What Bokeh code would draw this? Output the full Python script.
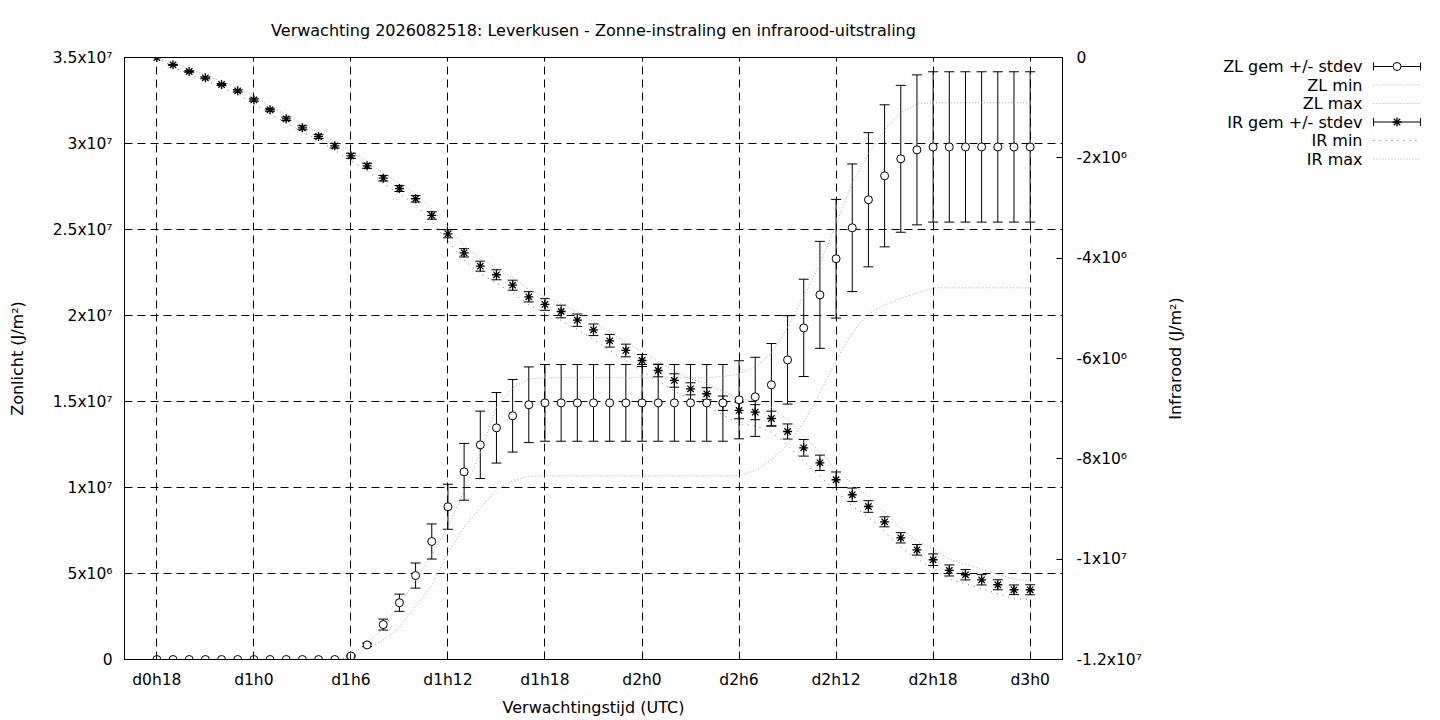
import math
from bokeh.plotting import figure
from bokeh.models import Range1d, LinearAxis, FixedTicker, Whisker, TeeHead, ColumnDataSource
from bokeh.layouts import row
from bokeh.embed import file_html
from bokeh.resources import INLINE
from bokeh.core.properties import value

FONT = "DejaVu Sans"
FS = "16px"
FS_TICK = "15.5px"

TITLE = "Verwachting 2026082518: Leverkusen - Zonne-instraling en infrarood-uitstraling"
X_LABEL = "Verwachtingstijd (UTC)"
Y_LABEL = "Zonlicht (J/m²)"
Y2_LABEL = "Infrarood (J/m²)"

# forecast hour (hours since d0h0), one point per hour from d0h18 to d3h0
HOURS = list(range(18, 73))

X_TICKS = [18, 24, 30, 36, 42, 48, 54, 60, 66, 72]
X_TICK_LABELS = ["d0h18", "d1h0", "d1h6", "d1h12", "d1h18", "d2h0", "d2h6", "d2h12", "d2h18", "d3h0"]
Y_TICKS = [0, 5000000, 10000000, 15000000, 20000000, 25000000, 30000000, 35000000]
Y_TICK_LABELS = ["0", "5x10⁶", "1x10⁷", "1.5x10⁷", "2x10⁷", "2.5x10⁷", "3x10⁷", "3.5x10⁷"]
Y2_TICKS = [-12000000, -10000000, -8000000, -6000000, -4000000, -2000000, 0]
Y2_TICK_LABELS = ["-1.2x10⁷", "-1x10⁷", "-8x10⁶", "-6x10⁶", "-4x10⁶", "-2x10⁶", "0"]

LEGEND_LABELS = ["ZL gem +/- stdev", "ZL min", "ZL max", "IR gem +/- stdev", "IR min", "IR max"]

# Zonlicht (sunlight), units of 1e7 J/m2
ZL_MEAN_E7 = [0, 0, 0, 0, 0, 0, 0, 0, 0, 0, 0, 0,
              0.02, 0.085, 0.203, 0.33, 0.488, 0.686, 0.888, 1.091, 1.248, 1.347, 1.417, 1.481,
              1.492, 1.492, 1.492, 1.492, 1.492, 1.492, 1.492, 1.492, 1.492, 1.492, 1.492, 1.492,
              1.51, 1.527, 1.597, 1.742, 1.928, 2.12, 2.33, 2.51, 2.673, 2.812, 2.911, 2.963,
              2.98, 2.98, 2.98, 2.98, 2.98, 2.98, 2.98]
ZL_STD_E7 = [0, 0, 0, 0, 0, 0, 0, 0, 0, 0, 0, 0,
             0.005, 0.01, 0.032, 0.05, 0.073, 0.102, 0.131, 0.165, 0.196, 0.205, 0.211, 0.22,
             0.223, 0.223, 0.223, 0.223, 0.223, 0.223, 0.223, 0.223, 0.223, 0.223, 0.223, 0.223,
             0.227, 0.23, 0.24, 0.257, 0.283, 0.311, 0.345, 0.371, 0.39, 0.413, 0.427, 0.436,
             0.437, 0.437, 0.437, 0.437, 0.437, 0.437, 0.437]
ZL_MIN_E7 = [0, 0, 0, 0, 0, 0, 0, 0, 0, 0, 0, 0,
             0.01, 0.064, 0.113, 0.186, 0.31, 0.43, 0.62, 0.77, 0.88, 0.99, 1.04, 1.065,
             1.068, 1.068, 1.068, 1.068, 1.068, 1.068, 1.068, 1.068, 1.068, 1.068, 1.068, 1.068,
             1.068, 1.10, 1.16, 1.25, 1.38, 1.55, 1.74, 1.90, 2.01, 2.06, 2.10, 2.13,
             2.161, 2.161, 2.161, 2.161, 2.161, 2.161, 2.161]
ZL_MAX_E7 = [0, 0, 0, 0, 0, 0, 0, 0, 0, 0, 0, 0,
             0.023, 0.10, 0.18, 0.32, 0.46, 0.61, 0.77, 0.98, 1.20, 1.47, 1.58, 1.63,
             1.638, 1.638, 1.638, 1.638, 1.638, 1.638, 1.638, 1.638, 1.638, 1.638, 1.638, 1.645,
             1.66, 1.70, 1.78, 1.93, 2.11, 2.30, 2.53, 2.77, 2.94, 3.08, 3.18, 3.23,
             3.237, 3.237, 3.237, 3.237, 3.237, 3.237, 3.237]

# Infrarood (infrared), units of 1e6 J/m2
IR_MEAN_E6 = [0, -0.146, -0.279, -0.405, -0.538, -0.664, -0.843, -1.042, -1.222, -1.401, -1.575, -1.760,
              -1.959, -2.159, -2.406, -2.611, -2.816, -3.149, -3.514, -3.893, -4.160, -4.331, -4.539, -4.770,
              -4.923, -5.063, -5.236, -5.428, -5.647, -5.840, -6.040, -6.239, -6.438, -6.604, -6.703, -6.891,
              -7.036, -7.070, -7.196, -7.455, -7.780, -8.079, -8.417, -8.716, -8.950, -9.255, -9.574, -9.813,
              -10.012, -10.225, -10.311, -10.411, -10.510, -10.610, -10.610]
IR_STD_E6 = [0, 0.01, 0.015, 0.02, 0.02, 0.025, 0.03, 0.03, 0.035, 0.04, 0.04, 0.045,
             0.05, 0.05, 0.055, 0.06, 0.066, 0.075, 0.08, 0.083, 0.1, 0.1, 0.1, 0.103,
             0.116, 0.126, 0.123, 0.116, 0.126, 0.126, 0.12, 0.126, 0.133, 0.12, 0.12, 0.143,
             0.166, 0.15, 0.146, 0.15, 0.166, 0.153, 0.155, 0.133, 0.116, 0.1, 0.103, 0.106,
             0.116, 0.11, 0.103, 0.103, 0.1, 0.096, 0.1]
IR_MIN_E6 = [0, -0.19, -0.33, -0.46, -0.60, -0.73, -0.92, -1.12, -1.30, -1.48, -1.66, -1.85,
             -2.05, -2.26, -2.51, -2.72, -2.93, -3.28, -3.66, -4.04, -4.31, -4.49, -4.70, -4.93,
             -5.09, -5.24, -5.42, -5.62, -5.84, -6.04, -6.25, -6.45, -6.65, -6.82, -6.93, -7.13,
             -7.30, -7.34, -7.47, -7.73, -8.05, -8.34, -8.66, -8.94, -9.16, -9.45, -9.76, -9.99,
             -10.19, -10.40, -10.49, -10.59, -10.69, -10.79, -10.80]
IR_MAX_E6 = [0, -0.10, -0.22, -0.35, -0.48, -0.60, -0.77, -0.97, -1.15, -1.33, -1.50, -1.68,
             -1.88, -2.07, -2.31, -2.51, -2.71, -3.02, -3.38, -3.75, -4.02, -4.19, -4.39, -4.62,
             -4.77, -4.91, -5.08, -5.27, -5.48, -5.67, -5.87, -6.06, -6.25, -6.41, -6.50, -6.66,
             -6.80, -6.85, -6.97, -7.22, -7.55, -7.86, -8.20, -8.50, -8.76, -9.07, -9.39, -9.64,
             -9.80, -10.00, -10.10, -10.20, -10.30, -10.40, -10.43]

zl_mean = [v * 1e7 for v in ZL_MEAN_E7]
zl_std = [v * 1e7 for v in ZL_STD_E7]
zl_min = [v * 1e7 for v in ZL_MIN_E7]
zl_max = [v * 1e7 for v in ZL_MAX_E7]
ir_mean = [v * 1e6 for v in IR_MEAN_E6]
ir_std = [v * 1e6 for v in IR_STD_E6]
ir_min = [v * 1e6 for v in IR_MIN_E6]
ir_max = [v * 1e6 for v in IR_MAX_E6]

LIGHT = "#a9a9a9"
DARK = "#6a6a6a"
DOT_LIGHT = "1 2"
DOT_DARK = "1 5"

FW, FH = 938, 602
TOP = 57
RB = 90   # right border of the main plot (room for right tick labels)
p = figure(frame_width=FW, frame_height=FH,
           x_range=Range1d(16, 74), y_range=Range1d(0, 35000000),
           output_backend="svg", toolbar_location=None,
           min_border_left=124, min_border_right=RB, min_border_top=TOP, min_border_bottom=40)
p.extra_y_ranges = {"ir": Range1d(-12000000, 0)}

p.title.text = TITLE
p.title.align = "center"
p.title.text_font = FONT
p.title.text_font_size = FS
p.title.text_font_style = "normal"
p.title.text_color = "black"
p.title.standoff = 36

p.outline_line_color = "black"
p.outline_line_alpha = 1.0
p.background_fill_color = "white"
p.border_fill_color = "white"

# axes
xa = p.xaxis[0]
xa.ticker = FixedTicker(ticks=X_TICKS)
xa.major_label_overrides = dict(zip(X_TICKS, X_TICK_LABELS))
xa.axis_label = X_LABEL
ya = p.yaxis[0]
ya.ticker = FixedTicker(ticks=Y_TICKS)
ya.major_label_overrides = dict(zip(Y_TICKS, Y_TICK_LABELS))
ya.axis_label = Y_LABEL
ya2 = LinearAxis(y_range_name="ir", ticker=FixedTicker(ticks=Y2_TICKS),
                 major_label_overrides=dict(zip(Y2_TICKS, Y2_TICK_LABELS)))
p.add_layout(ya2, "right")

for ax in (xa, ya, ya2):
    ax.axis_line_color = "black"
    ax.major_tick_line_color = "black"
    ax.major_tick_in = 6
    ax.major_tick_out = 0
    ax.minor_tick_line_color = None
    ax.major_label_text_font = FONT
    ax.major_label_text_font_size = FS_TICK
    ax.major_label_text_color = "black"
    ax.axis_label_text_font = FONT
    ax.axis_label_text_font_size = FS
    ax.axis_label_text_font_style = "normal"
    ax.axis_label_text_color = "black"
xa.major_label_standoff = 11
xa.axis_label_standoff = 6
ya.major_label_standoff = 12
ya.axis_label_standoff = 23
ya2.major_label_standoff = 14

for g in (p.xgrid[0], p.ygrid[0]):
    g.grid_line_color = "black"
    g.grid_line_dash = "8 5"
    g.grid_line_width = 1

# min / max lines
p.line(HOURS, zl_min, line_color=LIGHT, line_dash=DOT_LIGHT, line_width=1)
p.line(HOURS, zl_max, line_color=LIGHT, line_dash=DOT_LIGHT, line_width=1)
p.line(HOURS, ir_min, line_color=DARK, line_dash=DOT_DARK, line_width=1, y_range_name="ir")
p.line(HOURS, ir_max, line_color=LIGHT, line_dash=DOT_LIGHT, line_width=1, y_range_name="ir")

# error bars (only where a spread exists)
zl_idx = [i for i, s in enumerate(zl_std) if s > 0]
zl_err = ColumnDataSource(dict(
    x=[HOURS[i] for i in zl_idx],
    lo=[zl_mean[i] - zl_std[i] for i in zl_idx],
    up=[zl_mean[i] + zl_std[i] for i in zl_idx]))
ir_idx = [i for i, s in enumerate(ir_std) if s > 0]
ir_err = ColumnDataSource(dict(
    x=[HOURS[i] for i in ir_idx],
    lo=[ir_mean[i] - ir_std[i] for i in ir_idx],
    up=[ir_mean[i] + ir_std[i] for i in ir_idx]))

for src, rng in ((zl_err, "default"), (ir_err, "ir")):
    w = Whisker(source=src, base="x", lower="lo", upper="up", dimension="height",
                line_color="black", line_width=1, y_range_name=rng,
                lower_head=TeeHead(size=10, line_color="black", line_width=1),
                upper_head=TeeHead(size=10, line_color="black", line_width=1))
    w.level = "underlay"
    p.add_layout(w)

# mean markers
p.scatter(HOURS, ir_mean, marker="asterisk", size=9, line_color="black", line_width=1.3, y_range_name="ir")
p.scatter(HOURS, zl_mean, marker="circle", size=8, fill_color="white", line_color="black", line_width=1)

# side panel: right-axis title (reading bottom-to-top) + gnuplot-style key
# coordinates: x in px from the panel's left edge, y in px from the plot frame's top edge
LW = 1428 - (124 + FW + RB)
q = figure(frame_width=LW, frame_height=FH, x_range=Range1d(0, LW), y_range=Range1d(FH, 0),
           x_axis_location=None, y_axis_location=None,
           min_border_left=0, min_border_right=0, min_border_top=TOP, min_border_bottom=40,
           toolbar_location=None, output_backend="svg")
q.outline_line_color = None
q.grid.visible = False
q.background_fill_color = "white"
q.border_fill_color = "white"

q.text(x=[23], y=[FH / 2], text=[Y2_LABEL], angle=math.pi / 2, text_align="center",
       text_baseline="middle", text_font=value(FONT), text_font_size=FS, text_color="black")

ly = [9 + 18.5 * i for i in range(len(LEGEND_LABELS))]
tx, sx0, sx1 = 210, 221, 268
smid = (sx0 + sx1) / 2
q.text(x=[tx] * len(ly), y=ly, text=LEGEND_LABELS, text_align="right", text_baseline="middle",
       text_font=value(FONT), text_font_size=FS, text_color="black")
for k in (0, 3):
    q.segment(x0=[sx0], y0=[ly[k]], x1=[sx1], y1=[ly[k]], line_color="black", line_width=1)
    q.segment(x0=[sx0, sx1], y0=[ly[k] - 4, ly[k] - 4], x1=[sx0, sx1], y1=[ly[k] + 4, ly[k] + 4],
              line_color="black", line_width=1)
q.scatter([smid], [ly[0]], marker="circle", size=8, fill_color="white", line_color="black")
q.scatter([smid], [ly[3]], marker="asterisk", size=9, line_color="black", line_width=1.3)
for k, col, dash in ((1, LIGHT, DOT_LIGHT), (2, LIGHT, DOT_LIGHT), (4, DARK, DOT_DARK), (5, LIGHT, DOT_LIGHT)):
    q.segment(x0=[sx0], y0=[ly[k]], x1=[sx1], y1=[ly[k]], line_color=col, line_dash=dash, line_width=1)

layout = row(p, q)
open("out.html", "w").write(file_html(layout, INLINE))
